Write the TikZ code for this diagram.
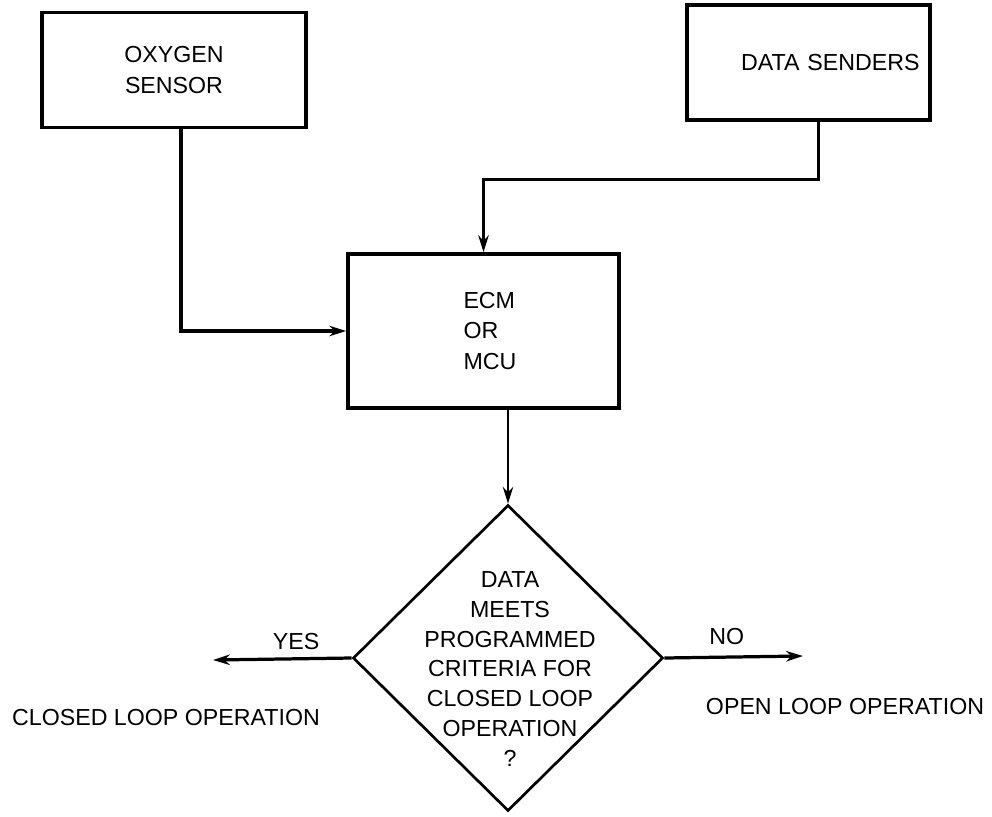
\documentclass[tikz,border=0pt]{standalone}
\usepackage{fontspec}
\setmainfont{Liberation Sans}
\usepackage{tikz}
\usetikzlibrary{arrows.meta,positioning,shapes.geometric}

\begin{document}
\begin{tikzpicture}[x=0.025cm, y=-0.025cm, >={Stealth[length=4.2mm, width=2.6mm]},
    font=\fontsize{16.5}{21.5}\selectfont,
    box/.style={draw, line width=2.6pt, align=center, minimum height=2.875cm},
    dec/.style={draw, diamond, line width=1.9pt, minimum width=7.75cm, minimum height=7.65cm, inner sep=0pt},
    link/.style={line width=2.3pt},
    outcome/.style={inner sep=0pt}]

  \useasboundingbox (0,0) rectangle (992,816);

  % --- inputs ---
  \node[box, minimum width=6.6cm] (oxy) at (174,70) {OXYGEN\\SENSOR};
  \node[box, minimum width=6.075cm, text width=5.55cm, align=right] (snd) at (808.5,62.5) {DATA SENDERS};
  \node[box, minimum width=6.775cm, minimum height=3.85cm, text width=1.0cm, align=left] (ecm) at (483.5,331) {ECM\\OR\\MCU};

  \draw[link,->] ([xshift=0.175cm]oxy.south) |- (ecm.west);
  \draw[link,->] ([xshift=0.25cm]snd.south) -- ++(0,58) -| (ecm.north);

  % --- decision ---
  \node[dec] (dec) at (508,658) {};
  \node[align=center, font=\fontsize{16.5}{21.3}\selectfont] (q) at (510,669)
    {DATA\\MEETS\\PROGRAMMED\\CRITERIA FOR\\CLOSED LOOP\\OPERATION\\?};

  \draw[line width=1.4pt,->] (ecm.south -| dec.north) -- (dec.north);

  \coordinate (yesend) at (213,660);
  \coordinate (noend) at (803,656);
  \draw[link,->] (dec.west) -- (yesend) node[pos=0.4, above=5pt, outcome] (yes) {YES};
  \draw[link,->] (dec.east) -- (noend) node[pos=0.45, above=8pt, outcome] (no) {NO};

  \node[outcome] (closed) at (166,718) {CLOSED LOOP OPERATION};
  \node[outcome] (open) at (845,707) {OPEN LOOP OPERATION};
\end{tikzpicture}
\end{document}
